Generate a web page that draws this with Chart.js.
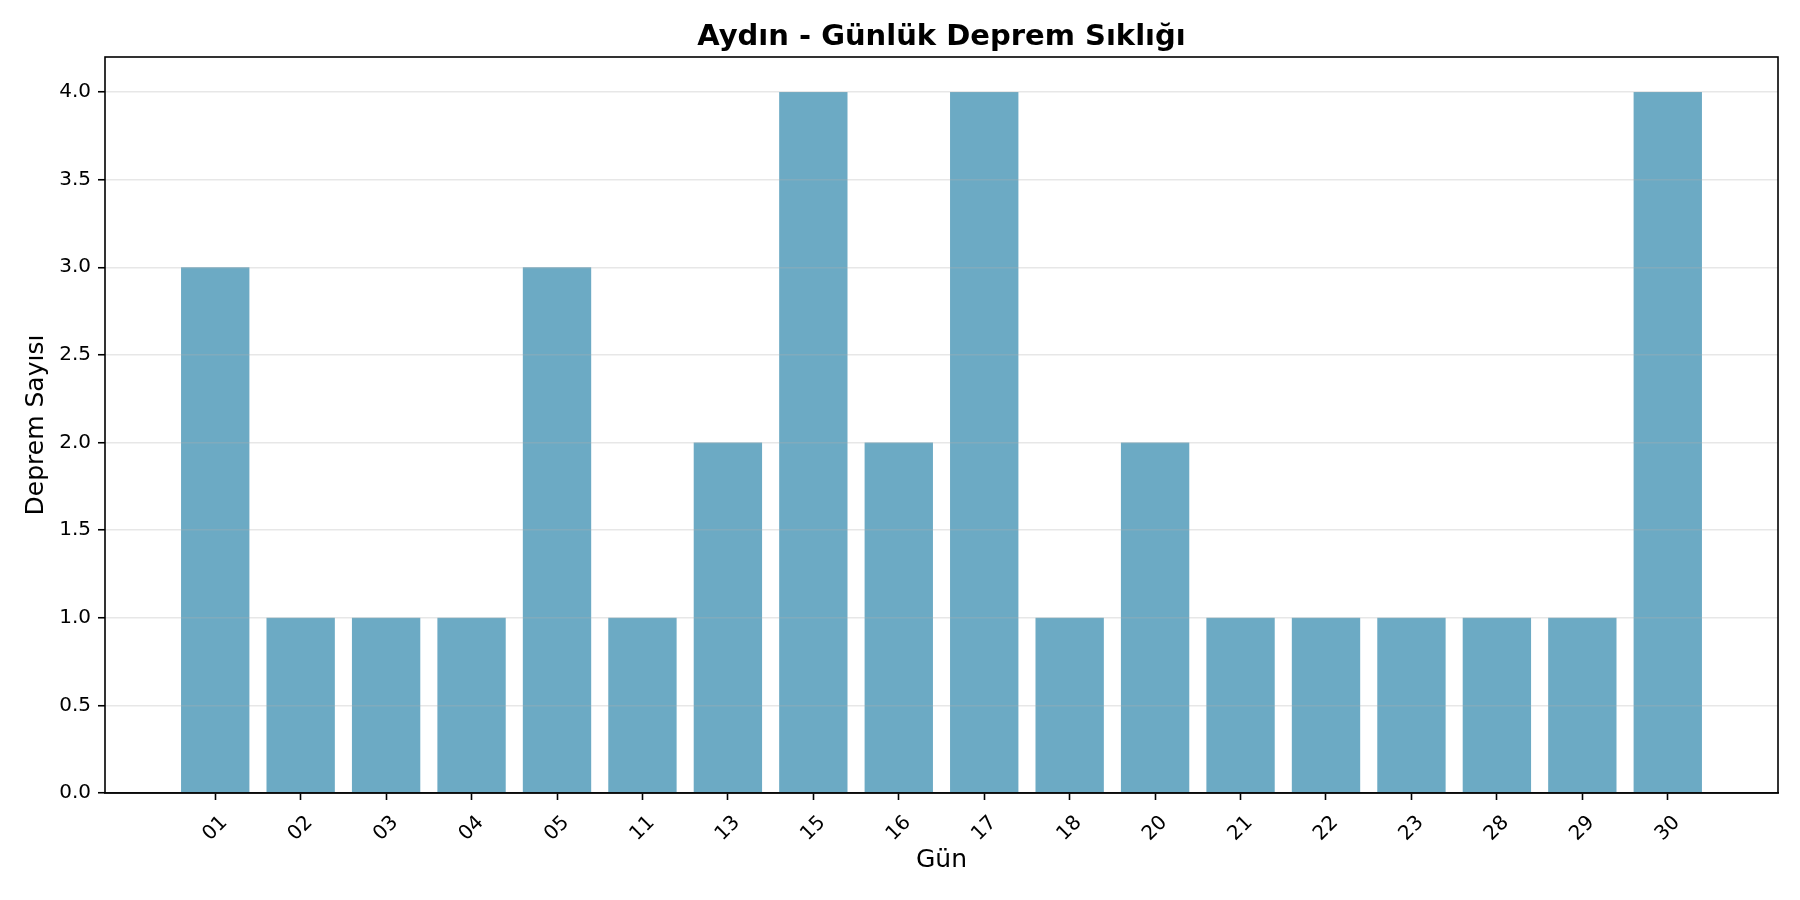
<!DOCTYPE html>
<html>
<head>
<meta charset="utf-8">
<script src="https://cdn.jsdelivr.net/npm/chart.js@4/dist/chart.umd.min.js"></script>
<style>
  html, body { margin: 0; padding: 0; background: #fff; }
  canvas { display: block; }
</style>
</head>
<body>
<canvas id="chart" width="1800" height="900"></canvas>
<script>
// Days of the month that had at least one quake, and the count for each.
const DAYS = ["01", "02", "03", "04", "05", "11", "13", "15", "16", "17", "18", "20", "21", "22", "23", "28", "29", "30"];
const COUNTS = [3, 1, 1, 1, 3, 1, 2, 4, 2, 4, 1, 2, 1, 1, 1, 1, 1, 4];
const Y_TICKS = [0, 0.5, 1, 1.5, 2, 2.5, 3, 3.5, 4];

const FONT = "'DejaVu Sans', 'Liberation Sans', sans-serif";
Chart.defaults.color = "#000";
Chart.defaults.font.family = FONT;

// All four spines, matplotlib style box.
const frameBox = {
  id: "frameBox",
  afterDraw(chart) {
    const { ctx, chartArea: a } = chart;
    ctx.save();
    ctx.strokeStyle = "#000";
    ctx.lineWidth = 1.6;
    ctx.strokeRect(a.left, a.top, a.right - a.left, a.bottom - a.top);
    ctx.restore();
  },
};

new Chart(document.getElementById("chart"), {
  type: "bar",
  data: {
    datasets: [{
      data: COUNTS.map((v, i) => ({ x: i, y: v })),
      backgroundColor: "rgba(46,134,171,0.7)",
      borderWidth: 0,
      barPercentage: 0.8,
      categoryPercentage: 1.0,
    }],
  },
  options: {
    responsive: false,
    devicePixelRatio: 1,
    animation: false,
    layout: { padding: { left: 0, right: 22, top: 0, bottom: 0 } },
    plugins: {
      legend: { display: false },
      tooltip: { enabled: false },
      title: {
        display: true,
        fullSize: false,
        text: "Aydın - Günlük Deprem Sıklığı",
        color: "#000",
        font: { family: FONT, size: 29, weight: "bold", lineHeight: 1.2 },
        padding: { top: 19.6, bottom: 2.6 },
      },
    },
    scales: {
      x: {
        type: "linear",
        min: -1.29,
        max: 18.29,
        offset: false,
        afterBuildTicks: (s) => { s.ticks = DAYS.map((d, i) => ({ value: i })); },
        afterFit: (s) => { s.height = 107; },
        ticks: {
          autoSkip: false,
          minRotation: 45,
          maxRotation: 45,
          labelOffset: 9,
          padding: 11,
          font: { size: 20 },
          callback: (v) => DAYS[v],
        },
        grid: {
          offset: false,
          drawOnChartArea: false,
          drawTicks: true,
          tickLength: 7,
          tickColor: "#000",
          tickWidth: 1.6,
        },
        border: { color: "#000", width: 1.6 },
        title: {
          display: true,
          text: "Gün",
          font: { size: 25, lineHeight: 1.2 },
          padding: { top: 0, bottom: 25 },
        },
      },
      y: {
        min: 0,
        max: 4.2,
        afterBuildTicks: (s) => { s.ticks = Y_TICKS.map((v) => ({ value: v })); },
        afterFit: (s) => { s.width = 105; },
        ticks: {
          padding: 7,
          font: { size: 20 },
          callback: (v) => Number(v).toFixed(1),
        },
        // grid sits above the bars, like the reference
        grid: {
          z: 1,
          color: "rgba(176,176,176,0.3)",
          lineWidth: 1.5,
          tickLength: 7,
          tickColor: "#000",
          tickWidth: 1.6,
        },
        border: { display: false },
        title: {
          display: true,
          text: "Deprem Sayısı",
          font: { size: 25, lineHeight: 1.2 },
          padding: { top: 21, bottom: 0 },
        },
      },
    },
  },
  plugins: [frameBox],
});
</script>
</body>
</html>
